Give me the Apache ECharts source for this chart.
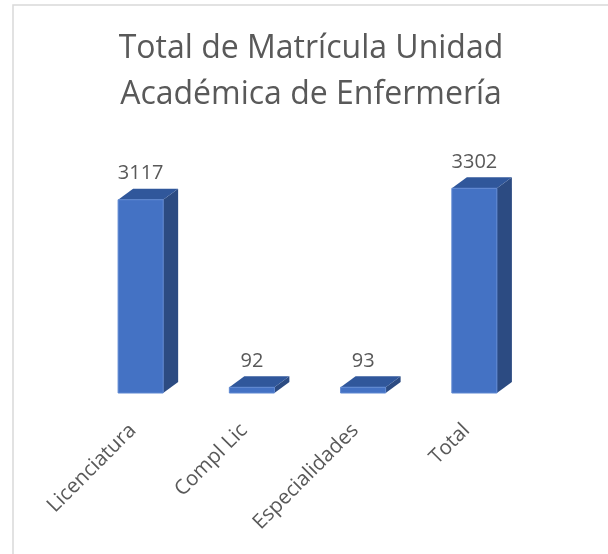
<!DOCTYPE html>
<html>
<head>
<meta charset="utf-8">
<script src="https://cdn.jsdelivr.net/npm/echarts@6/dist/echarts.min.js"></script>
<style>
  html, body { margin: 0; padding: 0; background: #fff; }
  #chart { width: 608px; height: 554px; }
</style>
</head>
<body>
<div id="chart"></div>
<script>
  // datos de la gráfica
  const categories = ['Licenciatura', 'Compl Lic', 'Especialidades', 'Total']
  const values = [3117, 92, 93, 3302]
  const titleText = 'Total de Matrícula Unidad\nAcadémica de Enfermería'

  const font = '"Open Sans", "Noto Sans", sans-serif'
  const textColor = '#595959'
  const depthX = 15 // profundidad 3d
  const depthY = 11

  // barra 3d: cara frontal, lateral y superior
  function renderBar(params, api) {
    const base = api.coord([api.value(0), 0])
    const top = api.coord([api.value(0), api.value(1)])
    const bw = api.size([1, 0])[0] * 0.405
    const x0 = base[0] - bw / 2
    const x1 = base[0] + bw / 2
    const yb = base[1]
    const yt = top[1]
    return {
      type: 'group',
      children: [
        {
          type: 'polygon',
          shape: { points: [[x1, yt], [x1 + depthX, yt - depthY], [x1 + depthX, yb - depthY], [x1, yb]] },
          style: { fill: '#2c4b82' }
        },
        {
          type: 'polygon',
          shape: { points: [[x0, yt], [x0 + depthX, yt - depthY], [x1 + depthX, yt - depthY], [x1, yt]] },
          style: { fill: '#30579b' }
        },
        {
          type: 'rect',
          shape: { x: x0, y: yt, width: bw, height: yb - yt },
          style: { fill: '#4472c4', stroke: '#5f88d2', lineWidth: 1 }
        },
        {
          type: 'text',
          style: {
            text: String(api.value(1)),
            x: base[0],
            y: yt - 26,
            align: 'center',
            verticalAlign: 'middle',
            fontSize: 20,
            fontFamily: font,
            fill: textColor
          }
        }
      ]
    }
  }

  const chart = echarts.init(document.getElementById('chart'))
  chart.setOption({
    backgroundColor: '#fff',
    animation: false,
    title: {
      text: titleText,
      left: 306,
      top: 21,
      textAlign: 'center',
      textStyle: {
        fontFamily: font,
        fontSize: 32,
        fontWeight: 'normal',
        color: textColor,
        lineHeight: 46
      }
    },
    graphic: [{
      type: 'rect',
      shape: { x: 13, y: 5, width: 700, height: 700 },
      style: { fill: 'none', stroke: '#d9d9d9', lineWidth: 1.5 },
      silent: true
    }],
    grid: { left: 85, right: 78, top: 176, bottom: 161 },
    xAxis: {
      type: 'category',
      data: categories,
      axisLine: { show: false },
      axisTick: { show: false },
      axisLabel: {
        rotate: 45,
        margin: 42,
        interval: 0,
        align: 'right',
        verticalAlign: 'bottom',
        lineHeight: 22,
        fontSize: 20.5,
        fontFamily: font,
        color: textColor
      }
    },
    yAxis: {
      type: 'value',
      min: 0,
      max: 3500,
      show: false,
      splitLine: { show: false }
    },
    series: [{
      type: 'custom',
      renderItem: renderBar,
      data: values.map((v, i) => [i, v]),
      encode: { x: 0, y: 1 }
    }]
  })
</script>
</body>
</html>
